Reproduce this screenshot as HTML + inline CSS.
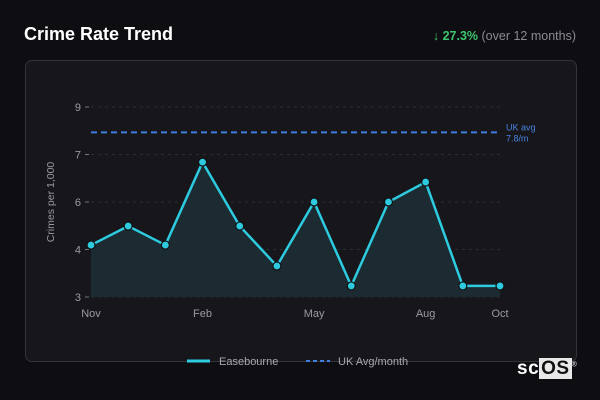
<!DOCTYPE html>
<html><head><meta charset="utf-8">
<style>
html,body{margin:0;padding:0;background:#0e0e12;width:600px;height:400px;overflow:hidden;font-family:"Liberation Sans",sans-serif}
#title{position:absolute;left:24px;top:24px;color:#fff;font-weight:bold;font-size:18px}
#delta{position:absolute;right:24px;top:29px;font-size:12.5px;color:#8a8a90}
#delta b{color:#3ec46d}
#card{position:absolute;left:25px;top:60px;width:550px;height:300px;border:1px solid #33333a;border-radius:7px;background:#16161b}
svg{position:absolute;left:0;top:0}
#logo{position:absolute;left:517px;top:358px;font-weight:bold;font-size:19px;color:#fff;letter-spacing:0.5px}
#logo span{background:#e8e8e8;color:#111;padding:0 2px}
</style></head><body>
<div id="title">Crime Rate Trend</div>
<div id="delta"><b>↓ 27.3%</b> (over 12 months)</div>
<div id="card"></div>
<svg id="chart" width="600" height="400"></svg>
<div id="logo">sc<span>OS</span><sup style="font-size:7px;font-weight:normal">®</sup></div>
<script>
const months = ["Nov","Dec","Jan","Feb","Mar","Apr","May","Jun","Jul","Aug","Sep","Oct"];
const values = [4.64,5.24,4.64,7.26,5.24,3.98,6.0,3.35,6.0,6.63,3.35,3.35];
const tickValues = [3,4.5,6,7.5,9];
const tickLabels = ["3","4","6","7","9"];
const xLabelIdx = [0,3,6,9,11];
const ukAvgValue = 8.2;
const NS="http://www.w3.org/2000/svg";
const svg=document.getElementById('chart');
const x0=91,x1=500,y0=297,y1=107,vmin=3,vmax=9;
const xs=i=>x0+(x1-x0)*i/(months.length-1);
const ys=v=>y0-(v-vmin)/(vmax-vmin)*(y0-y1);
function mk(t,a){const e=document.createElementNS(NS,t);for(const k in a)e.setAttribute(k,a[k]);svg.appendChild(e);return e;}
tickValues.forEach((v,i)=>{
  const g=mk('line',{x1:x0,x2:x1,y1:ys(v),y2:ys(v),stroke:'#2c2c33','stroke-dasharray':'3,4'});
  
  
  const tk=mk('line',{x1:85,x2:89,y1:ys(v),y2:ys(v),stroke:'#777'});
  
  
  const t=mk('text',{x:81,y:ys(v)+4,'text-anchor':'end',fill:'#9a9aa0','font-size':'11'});
  t.textContent=tickLabels[i];
  
  
});
xLabelIdx.forEach(i=>{
  const t=mk('text',{x:xs(i),y:317,'text-anchor':'middle',fill:'#9a9aa0','font-size':'11'});
  t.textContent=months[i];
  
  
});
const yt=mk('text',{x:54,y:202,'text-anchor':'middle',fill:'#9a9aa0','font-size':'10.5',transform:'rotate(-90 54 202)'});
yt.textContent='Crimes per 1,000';


let pts=values.map((v,i)=>xs(i)+','+ys(v)).join(' ');
const area=mk('polygon',{points:x0+','+y0+' '+pts+' '+x1+','+y0,fill:'#1b2b31'});


const av=mk('line',{x1:x0,x2:x1,y1:ys(ukAvgValue),y2:ys(ukAvgValue),stroke:'#3f7ee0','stroke-width':'2','stroke-dasharray':'6,4'});


const al1=mk('text',{x:506,y:ys(ukAvgValue)-2,fill:'#4a84e0','font-size':'9'});al1.textContent='UK avg';


const al2=mk('text',{x:506,y:ys(ukAvgValue)+9,fill:'#4a84e0','font-size':'9'});al2.textContent='7.8/m';


const ln=mk('polyline',{points:pts,fill:'none',stroke:'#2ecbe0','stroke-width':'2.5','stroke-linejoin':'round'});


values.forEach((v,i)=>{
  const c=mk('circle',{cx:xs(i),cy:ys(v),r:4,fill:'#2ecbe0',stroke:'#111','stroke-width':'1.2'});
  
  
});
// legend
const lg1=mk('line',{x1:187,x2:210,y1:361,y2:361,stroke:'#2ecbe0','stroke-width':'3'});


const lt1=mk('text',{x:219,y:365,fill:'#a8a8ae','font-size':'11'});lt1.textContent='Easebourne';


const lg2=mk('line',{x1:306,x2:330,y1:361,y2:361,stroke:'#3f7ee0','stroke-width':'2','stroke-dasharray':'4,3'});


const lt2=mk('text',{x:338,y:365,fill:'#a8a8ae','font-size':'11'});lt2.textContent='UK Avg/month';


</script>
</body></html>
